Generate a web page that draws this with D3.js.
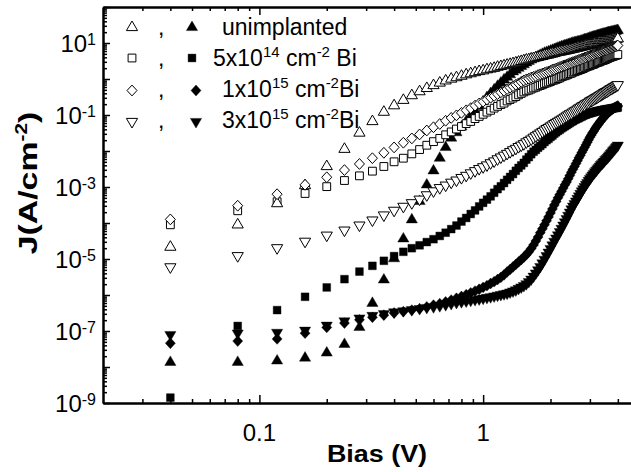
<!DOCTYPE html>
<html><head><meta charset="utf-8">
<script src="https://cdn.jsdelivr.net/npm/d3@7"></script>
<style>
body{margin:0;background:#fff}
svg{display:block;font-family:"Liberation Sans",Arial,Helvetica,sans-serif}
text{white-space:pre}
</style>
</head><body>
<svg id="c" width="631" height="472"></svg>
<script>
// ---------------- data (Bias in V, current density as log10 J [A/cm^2]) ----------------
const bias = [0.04,0.08,0.12,0.16,0.2,0.24,0.28,0.32,0.36,0.4,
0.44,0.48,0.52,0.56,0.6,0.64,0.68,0.72,0.76,0.8,
0.84,0.88,0.92,0.96,1,1.04,1.08,1.12,1.16,1.2,
1.24,1.28,1.32,1.36,1.4,1.44,1.48,1.52,1.56,1.6,
1.64,1.68,1.72,1.76,1.8,1.84,1.88,1.92,1.96,2,
2.04,2.08,2.12,2.16,2.2,2.24,2.28,2.32,2.36,2.4,
2.44,2.48,2.52,2.56,2.6,2.64,2.68,2.72,2.76,2.8,
2.84,2.88,2.92,2.96,3,3.04,3.08,3.12,3.16,3.2,
3.24,3.28,3.32,3.36,3.4,3.44,3.48,3.52,3.56,3.6,
3.64,3.68,3.72,3.76,3.8,3.84,3.88,3.92,3.96,4];

const logJ_unimplanted_open = [-4.63,-4.01,-3.42,-2.92,-2.39,-1.91,-1.46,-1.14,-0.88,-0.70,
-0.55,-0.42,-0.31,-0.22,-0.14,-0.07,-0.01,0.04,0.08,0.12,
0.16,0.19,0.22,0.25,0.27,0.30,0.32,0.34,0.37,0.39,
0.41,0.43,0.45,0.47,0.49,0.51,0.53,0.55,0.57,0.58,
0.60,0.61,0.63,0.64,0.66,0.67,0.69,0.70,0.71,0.73,
0.74,0.75,0.77,0.78,0.79,0.80,0.81,0.82,0.83,0.84,
0.85,0.86,0.87,0.88,0.89,0.90,0.91,0.92,0.93,0.94,
0.95,0.96,0.97,0.97,0.98,0.99,1.00,1.01,1.02,1.02,
1.03,1.04,1.05,1.05,1.06,1.07,1.08,1.08,1.09,1.10,
1.10,1.11,1.12,1.12,1.13,1.13,1.14,1.15,1.15,1.16];

const logJ_unimplanted_filled = [-7.83,-7.83,-7.79,-7.71,-7.57,-7.33,-6.86,-6.19,-5.54,-4.95,
-4.40,-3.87,-3.36,-2.90,-2.51,-2.16,-1.86,-1.60,-1.45,-1.29,
-1.14,-0.99,-0.85,-0.72,-0.59,-0.47,-0.36,-0.26,-0.16,-0.07,
0.02,0.09,0.16,0.24,0.29,0.34,0.39,0.44,0.49,0.53,
0.57,0.61,0.64,0.67,0.70,0.73,0.76,0.78,0.80,0.82,
0.84,0.86,0.88,0.90,0.92,0.94,0.95,0.97,0.98,1.00,
1.01,1.03,1.04,1.05,1.06,1.07,1.08,1.09,1.10,1.12,
1.13,1.14,1.15,1.16,1.18,1.19,1.20,1.21,1.22,1.23,
1.24,1.25,1.26,1.27,1.28,1.29,1.29,1.30,1.31,1.32,
1.33,1.33,1.34,1.35,1.35,1.36,1.37,1.37,1.38,1.39];

const logJ_5e14_open = [-4.05,-3.66,-3.41,-3.18,-2.99,-2.82,-2.69,-2.56,-2.43,-2.30,
-2.20,-2.08,-1.96,-1.84,-1.74,-1.65,-1.55,-1.47,-1.39,-1.32,
-1.24,-1.18,-1.10,-1.04,-0.98,-0.92,-0.87,-0.81,-0.76,-0.71,
-0.67,-0.61,-0.57,-0.53,-0.49,-0.44,-0.40,-0.36,-0.33,-0.31,
-0.28,-0.25,-0.23,-0.20,-0.18,-0.16,-0.13,-0.11,-0.09,-0.07,
-0.04,-0.03,-0.01,0.01,0.03,0.06,0.08,0.09,0.11,0.13,
0.15,0.16,0.19,0.20,0.22,0.23,0.25,0.26,0.28,0.29,
0.32,0.33,0.35,0.36,0.37,0.39,0.40,0.41,0.43,0.45,
0.46,0.47,0.48,0.50,0.51,0.52,0.53,0.54,0.56,0.57,
0.59,0.60,0.61,0.62,0.63,0.64,0.65,0.66,0.67,0.68];

const logJ_5e14_filled = [-8.85,-6.86,-6.42,-6.05,-5.79,-5.56,-5.35,-5.19,-5.05,-4.92,
-4.80,-4.70,-4.62,-4.53,-4.45,-4.36,-4.27,-4.17,-4.07,-3.96,
-3.86,-3.75,-3.65,-3.54,-3.44,-3.35,-3.26,-3.16,-3.06,-2.98,
-2.89,-2.80,-2.72,-2.64,-2.55,-2.47,-2.40,-2.33,-2.24,-2.17,
-2.09,-2.02,-1.97,-1.91,-1.86,-1.81,-1.75,-1.70,-1.66,-1.61,
-1.57,-1.52,-1.48,-1.44,-1.41,-1.37,-1.34,-1.31,-1.28,-1.25,
-1.22,-1.19,-1.17,-1.14,-1.12,-1.10,-1.08,-1.06,-1.04,-1.02,
-1.00,-0.99,-0.97,-0.96,-0.95,-0.94,-0.93,-0.92,-0.91,-0.90,
-0.89,-0.89,-0.88,-0.87,-0.87,-0.86,-0.85,-0.85,-0.84,-0.84,
-0.83,-0.83,-0.82,-0.82,-0.81,-0.81,-0.80,-0.80,-0.80,-0.79];

const logJ_1e15_open = [-3.90,-3.52,-3.20,-2.94,-2.73,-2.53,-2.36,-2.20,-2.05,-1.90,
-1.77,-1.65,-1.54,-1.43,-1.34,-1.25,-1.16,-1.08,-1.01,-0.94,
-0.87,-0.81,-0.74,-0.68,-0.63,-0.57,-0.52,-0.47,-0.42,-0.37,
-0.33,-0.28,-0.24,-0.20,-0.16,-0.12,-0.08,-0.04,-0.01,0.01,
0.04,0.06,0.08,0.11,0.13,0.15,0.17,0.19,0.21,0.23,
0.26,0.27,0.29,0.31,0.33,0.35,0.37,0.38,0.40,0.42,
0.44,0.45,0.47,0.48,0.50,0.51,0.53,0.54,0.56,0.57,
0.59,0.60,0.62,0.63,0.64,0.66,0.67,0.68,0.70,0.71,
0.72,0.73,0.74,0.76,0.77,0.78,0.79,0.80,0.81,0.82,
0.84,0.85,0.86,0.87,0.88,0.89,0.90,0.91,0.92,0.93];

const logJ_1e15_filled = [-7.34,-7.28,-7.22,-7.06,-6.90,-6.78,-6.69,-6.62,-6.56,-6.50,
-6.46,-6.42,-6.38,-6.33,-6.28,-6.24,-6.19,-6.14,-6.09,-6.04,
-5.99,-5.94,-5.89,-5.84,-5.79,-5.74,-5.68,-5.63,-5.57,-5.51,
-5.44,-5.36,-5.29,-5.22,-5.15,-5.08,-5.02,-4.95,-4.88,-4.80,
-4.71,-4.61,-4.50,-4.39,-4.27,-4.16,-4.05,-3.94,-3.83,-3.72,
-3.61,-3.50,-3.40,-3.30,-3.21,-3.12,-3.03,-2.94,-2.86,-2.77,
-2.68,-2.59,-2.51,-2.43,-2.35,-2.27,-2.19,-2.12,-2.04,-1.97,
-1.90,-1.83,-1.76,-1.69,-1.62,-1.56,-1.50,-1.45,-1.39,-1.34,
-1.29,-1.25,-1.20,-1.16,-1.12,-1.08,-1.05,-1.01,-0.98,-0.95,
-0.92,-0.90,-0.87,-0.85,-0.83,-0.81,-0.79,-0.78,-0.76,-0.75];

const logJ_3e15_open = [-5.26,-4.95,-4.73,-4.55,-4.38,-4.24,-4.10,-3.96,-3.82,-3.69,
-3.58,-3.48,-3.38,-3.26,-3.15,-3.06,-2.99,-2.91,-2.85,-2.78,
-2.72,-2.65,-2.59,-2.53,-2.48,-2.43,-2.37,-2.32,-2.26,-2.21,
-2.16,-2.11,-2.06,-2.01,-1.97,-1.92,-1.88,-1.84,-1.79,-1.75,
-1.71,-1.66,-1.62,-1.58,-1.54,-1.50,-1.46,-1.42,-1.39,-1.35,
-1.32,-1.28,-1.25,-1.22,-1.19,-1.16,-1.13,-1.10,-1.07,-1.04,
-1.01,-0.99,-0.96,-0.93,-0.91,-0.88,-0.85,-0.83,-0.80,-0.78,
-0.76,-0.73,-0.71,-0.69,-0.66,-0.64,-0.62,-0.60,-0.58,-0.56,
-0.54,-0.52,-0.50,-0.48,-0.46,-0.44,-0.42,-0.40,-0.39,-0.37,
-0.35,-0.33,-0.31,-0.30,-0.28,-0.26,-0.25,-0.23,-0.21,-0.20];

const logJ_3e15_filled = [-7.14,-7.10,-7.08,-7.02,-6.88,-6.76,-6.68,-6.61,-6.56,-6.51,
-6.48,-6.45,-6.42,-6.39,-6.37,-6.34,-6.31,-6.28,-6.25,-6.23,
-6.21,-6.19,-6.17,-6.15,-6.13,-6.11,-6.09,-6.07,-6.05,-6.03,
-6.01,-5.99,-5.96,-5.93,-5.90,-5.86,-5.82,-5.78,-5.73,-5.67,
-5.60,-5.52,-5.43,-5.34,-5.25,-5.15,-5.05,-4.95,-4.85,-4.75,
-4.65,-4.55,-4.46,-4.37,-4.28,-4.19,-4.10,-4.01,-3.92,-3.83,
-3.74,-3.65,-3.57,-3.50,-3.43,-3.36,-3.29,-3.22,-3.15,-3.09,
-3.03,-2.97,-2.92,-2.86,-2.81,-2.76,-2.71,-2.67,-2.62,-2.58,
-2.54,-2.50,-2.46,-2.42,-2.39,-2.35,-2.32,-2.28,-2.25,-2.22,
-2.18,-2.15,-2.11,-2.08,-2.04,-2.01,-1.98,-1.94,-1.91,-1.88];

const xTickValues = [0.1, 1];
const xTickLabels = ["0.1", "1"];
const yLabelExponents = [1, -1, -3, -5, -7, -9];
const legendRows = [
  [["unimplanted", 0]],
  [["5x10", 0], ["14", 1], [" cm", 0], ["-2", 1], [" Bi", 0]],
  [["1x10", 0], ["15", 1], [" cm", 0], ["-2", 1], ["Bi", 0]],
  [["3x10", 0], ["15", 1], [" cm", 0], ["-2", 1], ["Bi", 0]]
];
const xTitle = "Bias (V)";

// ---------------- layout ----------------
const svg = d3.select("#c");
svg.append("rect").attr("width", 631).attr("height", 472).attr("fill", "#fff");
const X0 = 103, X1 = 631, Y0 = 403, Y1 = 7;
const x = d3.scaleLog().domain([0.02, 4.58]).range([X0, X1]);
const y = d3.scaleLog().domain([1e-9, 1e2]).range([Y0, Y1]);

const shapes = {
  triUp: "M0,-5L5.6,4.6L-5.6,4.6Z",
  triDown: "M0,5L5.6,-4.6L-5.6,-4.6Z",
  square: "M-3.9,-3.9H3.9V3.9H-3.9Z",
  diamond: "M0,-5.4L5,0L0,5.4L-5,0Z"
};

const series = [
  {vals: logJ_unimplanted_filled, shape: "triUp", open: false},
  {vals: logJ_5e14_filled, shape: "square", open: false},
  {vals: logJ_1e15_filled, shape: "diamond", open: false},
  {vals: logJ_3e15_filled, shape: "triDown", open: false},
  {vals: logJ_5e14_open, shape: "square", open: true},
  {vals: logJ_unimplanted_open, shape: "triUp", open: true},
  {vals: logJ_1e15_open, shape: "diamond", open: true},
  {vals: logJ_3e15_open, shape: "triDown", open: true}
];

// ---------------- axes ----------------
const xMinor = [];
[0.01, 0.1, 1].forEach(d => { for (let k = 2; k <= 9; k++) { const v = d * k; if (v > 0.02 && v < 4.58) xMinor.push(v); } });
const yMajor = d3.range(-9, 3).map(e => Math.pow(10, e));
const yMinor = [];
d3.range(-9, 2).forEach(e => { for (let k = 2; k <= 9; k++) yMinor.push(k * Math.pow(10, e)); });

function styleAxis(g) {
  g.select(".domain").attr("stroke", "#000").attr("stroke-width", 2);
  g.selectAll(".tick line").attr("stroke", "#000").attr("stroke-width", 1.5);
  g.selectAll(".tick text").remove();
}
svg.append("g").attr("transform", `translate(0,${Y0})`)
  .call(d3.axisBottom(x).tickValues(xTickValues).tickSize(-8).tickSizeOuter(0).tickFormat("")).call(styleAxis);
svg.append("g").attr("transform", `translate(0,${Y0})`)
  .call(d3.axisBottom(x).tickValues(xMinor).tickSize(-4).tickSizeOuter(0).tickFormat("")).call(styleAxis);
svg.append("g").attr("transform", `translate(0,${Y1})`)
  .call(d3.axisTop(x).tickValues(xTickValues).tickSize(-8).tickSizeOuter(0).tickFormat("")).call(styleAxis);
svg.append("g").attr("transform", `translate(0,${Y1})`)
  .call(d3.axisTop(x).tickValues(xMinor).tickSize(-4).tickSizeOuter(0).tickFormat("")).call(styleAxis);
svg.append("g").attr("transform", `translate(${X0},0)`)
  .call(d3.axisLeft(y).tickValues(yMajor).tickSize(-7).tickSizeOuter(0).tickFormat("")).call(styleAxis);
svg.append("g").attr("transform", `translate(${X0},0)`)
  .call(d3.axisLeft(y).tickValues(yMinor).tickSize(-4).tickSizeOuter(0).tickFormat("")).call(styleAxis);

// tick labels
svg.append("g").selectAll("text").data(xTickValues).join("text")
  .attr("x", d => x(d)).attr("y", 441).attr("text-anchor", "middle")
  .attr("font-size", 24).text((d, i) => xTickLabels[i]);

const yl = svg.append("g").selectAll("text").data(yLabelExponents).join("text")
  .attr("x", 96).attr("y", d => y(Math.pow(10, d)) + 8.6).attr("text-anchor", "end")
  .attr("font-size", 24);
yl.append("tspan").text("10");
yl.append("tspan").attr("font-size", 16).attr("dy", -7).text(d => d < 0 ? "-" + (-d) : String(d));

// axis titles
svg.append("text").attr("transform", "translate(377,462) scale(1.17,1)").attr("text-anchor", "middle")
  .attr("font-size", 23).attr("font-weight", "bold").text(xTitle);
const yt = svg.append("text").attr("transform", "translate(37,183) rotate(-90) scale(1.3,1)")
  .attr("text-anchor", "middle").attr("font-size", 26).attr("font-weight", "bold");
yt.append("tspan").text("J(A/cm");
yt.append("tspan").attr("font-size", 16).attr("dy", -10).text("-2");
yt.append("tspan").attr("dy", 10).text(")");

// ---------------- data marks ----------------
series.forEach(s => {
  svg.append("g").selectAll("path").data(bias.map((b, i) => [b, s.vals[i]])).join("path")
    .attr("transform", d => `translate(${x(d[0])},${y(Math.pow(10, d[1]))})`)
    .attr("d", shapes[s.shape])
    .attr("fill", s.open ? "#fff" : "#000")
    .attr("stroke", "#000").attr("stroke-width", s.open ? 1 : 0.4);
});

// ---------------- legend ----------------
const legShapes = ["triUp", "square", "diamond", "triDown"];
const legMarkY = [26, 58, 90.5, 123];
const legFilledX = [192, 192, 196, 196];
const legBase = [34.5, 65.5, 96.5, 127.5];
const legTextX = [222, 213, 222, 222];
legShapes.forEach((sh, r) => {
  svg.append("path").attr("transform", `translate(132,${legMarkY[r]})`).attr("d", shapes[sh])
    .attr("fill", "#fff").attr("stroke", "#000").attr("stroke-width", 1);
  svg.append("text").attr("x", 158).attr("y", legBase[r]).attr("font-size", 23).text(",");
  svg.append("path").attr("transform", `translate(${legFilledX[r]},${legMarkY[r]})`).attr("d", shapes[sh])
    .attr("fill", "#000").attr("stroke", "#000").attr("stroke-width", 0.4);
  const t = svg.append("text").attr("x", legTextX[r]).attr("y", legBase[r]).attr("font-size", 23);
  let raised = 0;
  legendRows[r].forEach(([s, sup]) => {
    const ts = t.append("tspan").text(s);
    if (sup && !raised) { ts.attr("font-size", 15).attr("dy", -9); raised = 1; }
    else if (!sup && raised) { ts.attr("dy", 9); raised = 0; }
    else if (sup) ts.attr("font-size", 15);
  });
});
</script>
</body></html>
